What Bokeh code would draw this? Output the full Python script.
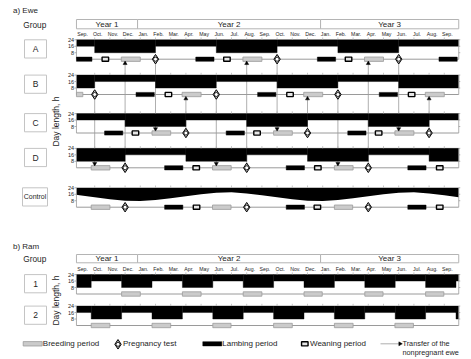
import math
from bokeh.plotting import figure
from bokeh.models import Range1d
from bokeh.core.properties import value
from bokeh.embed import file_html
from bokeh.resources import INLINE

# ---------------- data (months counted from 1 Sep, Year 1) ----------------
month_labels = ["Sep.", "Oct.", "Nov.", "Dec.", "Jan.", "Feb.", "Mar.", "Apr.", "May", "Jun.",
                "Jul.", "Aug.", "Sep.", "Oct.", "Nov.", "Dec.", "Jan.", "Feb.", "Mar.", "Apr.",
                "May", "Jun.", "Jul.", "Aug.", "Sep."]
year_labels = ["Year 1", "Year 2", "Year 3"]
year_edges = [-0.2, 3.82, 15.86, 24.95]
dl_ticks = [24, 16, 8]

ewe_groups = ["A", "B", "C", "D", "Control"]
ram_groups = ["1", "2"]

edges_A = [-0.2, 1, 5, 9, 13, 17, 21, 24.95]
daylen_A = [16, 8, 16, 8, 16, 8, 16]
edges_B = [-0.2, 1, 5, 9, 13, 17, 21, 24.95]
daylen_B = [8, 16, 8, 16, 8, 16, 8]
edges_C = [-0.2, 3, 7, 11, 15, 19, 23, 24.95]
daylen_C = [16, 8, 16, 8, 16, 8, 16]
edges_D = [-0.2, 3, 7, 11, 15, 19, 23, 24.95]
daylen_D = [8, 16, 8, 16, 8, 16, 8]

ctrl_month = [-0.2, 0, 1, 2, 3, 4, 5, 6, 7, 8, 9, 10, 11, 12, 13, 14, 15, 16, 17, 18,
              19, 20, 21, 22, 23, 24, 24.95]
ctrl_daylen = [15.3, 14.6, 12.2, 9.8, 7.9, 7.6, 8.9, 11.0, 13.5, 15.9, 17.9, 18.4, 17.0, 14.6,
               12.2, 9.8, 7.9, 7.6, 8.9, 11.0, 13.5, 15.9, 17.9, 18.4, 17.0, 14.6, 12.3]

edges_ram = [-0.2, 0.77, 2.77, 4.77, 6.77, 8.77, 10.77, 12.77, 14.77, 16.77, 18.77, 20.77,
             22.77, 24.77, 24.95]
daylen_ram1 = [8, 16, 8, 16, 8, 16, 8, 16, 8, 16, 8, 16, 8, 16]
daylen_ram2 = [16, 8, 16, 8, 16, 8, 16, 8, 16, 8, 16, 8, 16, 8]

breed_start_A = [2.75, 10.75, 18.75]
breed_end_A = [4.0, 12.0, 20.0]
preg_A = [5, 13, 21]
lamb_start_A = [-0.2, 7.65, 15.65, 23.65]
lamb_end_A = [0.82, 8.85, 16.85, 24.85]
wean_A = [1.7, 9.7, 17.7]

breed_start_B = [-0.2, 6.75, 14.75, 22.75]
breed_end_B = [0.22, 8.0, 16.0, 24.0]
preg_B = [1, 9, 17]
lamb_start_B = [3.72, 11.72, 19.72]
lamb_end_B = [4.92, 12.92, 20.92]
wean_B = [5.85, 13.85, 21.85]

breed_start_C = [4.77, 12.77, 20.75]
breed_end_C = [6.0, 14.0, 22.0]
preg_C = [7, 15, 23]
lamb_start_C = [1.65, 9.65, 17.65]
lamb_end_C = [2.85, 10.85, 18.85]
wean_C = [3.68, 11.68, 19.68]

breed_start_D = [0.77, 8.75, 16.77]
breed_end_D = [2.0, 9.98, 18.0]
preg_D = [3, 11, 19]
lamb_start_D = [5.6, 13.6, 21.6]
lamb_end_D = [6.8, 14.8, 22.8]
wean_D = [7.68, 15.68, 23.7]

breed_start_Ctrl = [0.77, 8.75, 16.77]
breed_end_Ctrl = [2.0, 9.97, 17.97]
preg_Ctrl = [3, 11, 19]
lamb_start_Ctrl = [5.6, 13.6, 21.6]
lamb_end_Ctrl = [6.8, 14.8, 22.8]
wean_Ctrl = [7.7, 15.65, 23.7]

breed_start_ram1 = [2.77, 6.77, 10.77, 14.77, 18.77, 22.77]
breed_end_ram1 = [4.0, 8.0, 12.0, 15.97, 19.97, 23.97]
breed_start_ram2 = [0.77, 4.77, 8.77, 12.77, 16.77, 20.75]
breed_end_ram2 = [2.0, 6.0, 9.97, 14.0, 18.0, 21.97]

transfer_month = [1, 9, 17, 3, 11, 19, 5, 13, 21, 7, 15, 23]
transfer_from = ["B", "B", "B", "D", "D", "D", "A", "A", "A", "C", "C", "C"]
transfer_to = ["D", "D", "D", "A", "A", "A", "C", "C", "C", "B", "B", "B"]

legend_labels = ["Breeding period", "Pregnancy test", "Lambing period", "Weaning period",
                 "Transfer of the", "nonpregnant ewe"]

# ---------------- layout ----------------
FONT = value("Liberation Sans")
TXT = "#1e1e1e"
GRAY = "#9a9a9a"
X0, PXM = 79.0, 15.2          # page x of 1 Sep Year 1, px per month
K = 0.81                      # px per hour of day length
W, H = 471, 359
base = {"A": 58.7, "B": 94.0, "C": 132.5, "D": 167.3, "Control": 206.7,
        "1": 293.5, "2": 325.0}


def px2m(X):
    return (X - X0) / PXM


p = figure(width=W, height=H, output_backend="svg", toolbar_location=None,
           x_range=Range1d(px2m(0), px2m(W)), y_range=Range1d(H, 0),
           x_axis_location=None, y_axis_location=None, min_border=0,
           outline_line_color=None)
p.grid.visible = False
p.background_fill_color = "white"

for g, y0 in base.items():
    p.extra_y_ranges[g] = Range1d((y0 - H) / K, y0 / K)


def txt(x, y, s, size, align="left", rng="default", angle=0.0, color=TXT):
    p.text(x=x, y=y, text=s, text_font=FONT, text_font_size=size, text_align=align,
           text_baseline="middle", text_color=color, angle=angle, y_range_name=rng)


# ---------------- transfer lines (behind everything) ----------------
for m, src, dst in zip(transfer_month, transfer_from, transfer_to):
    up = base[dst] < base[src]
    tip = base[dst] + (4.2 if up else -4.2)
    p.segment(x0=[m], y0=[base[src]], x1=[m], y1=[tip], line_color=GRAY, line_width=0.8)

# ---------------- headers ----------------
def header(y_title, y_group, title, yb_top, yb_bot, y_month):
    txt([px2m(12.5)], [y_title], [title], "8px")
    txt([px2m(22.7)], [y_group], ["Group"], "8.3px")
    p.quad(left=year_edges[:-1], right=year_edges[1:], top=yb_top, bottom=yb_bot,
           fill_color="white", line_color="#b4b4b4", line_width=1)
    centers = [(a + b) / 2 for a, b in zip(year_edges[:-1], year_edges[1:])]
    txt(centers, [(yb_top + yb_bot) / 2] * 3, year_labels, "8px", "center")
    txt([i + 0.2 for i in range(len(month_labels))], [y_month] * len(month_labels),
        month_labels, "5.2px", "center")


header(10.0, 24.0, "a) Ewe", 19.0, 28.3, 33.4)
header(245.7, 258.3, "b) Ram", 254.0, 262.3, 268.3)

# day length axis titles
txt([px2m(55.5)], [121], ["Day length, h"], "8.5px", "center", angle=math.pi / 2)
txt([px2m(55.5)], [300], ["Day length, h"], "8.5px", "center", angle=math.pi / 2)

# ---------------- group boxes ----------------
for g in ewe_groups + ram_groups:
    y0 = base[g]
    xl, xr = (px2m(22), px2m(47)) if g == "Control" else (px2m(24), px2m(46))
    p.quad(left=[xl], right=[xr], top=[y0 - 19.4], bottom=[y0 - 1.2], fill_color="white",
           line_color="#c4c4c4", line_width=1)
    txt([(xl + xr) / 2], [y0 - 10.3], [g], "7px" if g == "Control" else "8.5px", "center")

# ---------------- day-length bands ----------------
bands = {"A": (edges_A, daylen_A), "B": (edges_B, daylen_B), "C": (edges_C, daylen_C),
         "D": (edges_D, daylen_D), "1": (edges_ram, daylen_ram1), "2": (edges_ram, daylen_ram2)}
for g in ewe_groups + ram_groups:
    if g == "Control":
        p.varea(x=ctrl_month, y1=ctrl_daylen, y2=24, fill_color="black", y_range_name=g)
    else:
        e, d = bands[g]
        p.quad(left=e[:-1], right=e[1:], top=24, bottom=d, fill_color="black",
               line_color="black", line_width=0.4, y_range_name=g)
    lo, hi = year_edges[0], year_edges[-1]
    p.segment(x0=[lo, hi], y0=[0, 0], x1=[lo, hi], y1=[24, 24], line_color=GRAY,
              line_width=0.8, y_range_name=g)
    p.segment(x0=[lo - 0.13] * 3, y0=dl_ticks, x1=[lo] * 3, y1=dl_ticks, line_color=GRAY,
              line_width=0.8, y_range_name=g)
    p.segment(x0=[hi] * 3, y0=dl_ticks, x1=[hi + 0.1] * 3, y1=dl_ticks, line_color=GRAY,
              line_width=0.8, y_range_name=g)
    mt = list(range(1, 25))
    p.segment(x0=mt, y0=[24] * len(mt), x1=mt, y1=[26.8] * len(mt), line_color="#b0b0b0",
              line_width=0.7, y_range_name=g)
    txt([px2m(73.5)] * 3, dl_ticks, [str(t) for t in dl_ticks], "5.5px", "right", rng=g)
    p.segment(x0=[lo], y0=[0], x1=[hi], y1=[0], line_color=GRAY, line_width=1, y_range_name=g)


def breeding(starts, ends, g):
    p.rect(x=[(a + b) / 2 for a, b in zip(starts, ends)], y=0,
           width=[b - a for a, b in zip(starts, ends)], height=4.4, height_units="screen",
           fill_color="#cbcbcb", line_color="#9c9c9c", line_width=0.8, y_range_name=g)


def lambing(starts, ends, g):
    p.rect(x=[(a + b) / 2 for a, b in zip(starts, ends)], y=0,
           width=[b - a for a, b in zip(starts, ends)], height=4.2, height_units="screen",
           fill_color="black", line_color="black", line_width=0.5, y_range_name=g)


def weaning(ms, g):
    p.rect(x=ms, y=0, width=6.5, height=4.2, width_units="screen", height_units="screen",
           fill_color="#e6e6e6", line_color="black", line_width=1.4, y_range_name=g)


def pregtest(ms, g):
    p.scatter(x=ms, y=0, marker="diamond", size=9.5, fill_color="#bdbdbd",
              line_color="black", line_width=1, y_range_name=g)
    p.scatter(x=ms, y=0, marker="circle", size=4, fill_color="white", line_color="black",
              line_width=0.8, y_range_name=g)


events = {
    "A": (breed_start_A, breed_end_A, preg_A, lamb_start_A, lamb_end_A, wean_A),
    "B": (breed_start_B, breed_end_B, preg_B, lamb_start_B, lamb_end_B, wean_B),
    "C": (breed_start_C, breed_end_C, preg_C, lamb_start_C, lamb_end_C, wean_C),
    "D": (breed_start_D, breed_end_D, preg_D, lamb_start_D, lamb_end_D, wean_D),
    "Control": (breed_start_Ctrl, breed_end_Ctrl, preg_Ctrl, lamb_start_Ctrl, lamb_end_Ctrl,
                wean_Ctrl),
}
for g, (bs, be, pt, ls, le, wn) in events.items():
    breeding(bs, be, g)
    lambing(ls, le, g)
    weaning(wn, g)
    pregtest(pt, g)

breeding(breed_start_ram1, breed_end_ram1, "1")
breeding(breed_start_ram2, breed_end_ram2, "2")

# arrowheads of the transfers, on top of the bars
for m, src, dst in zip(transfer_month, transfer_from, transfer_to):
    up = base[dst] < base[src]
    tip = base[dst] + (4.2 if up else -4.2)
    p.scatter(x=[m], y=[tip], marker="triangle" if up else "inverted_triangle", size=4,
              fill_color="black", line_color="black", line_width=0.5)

# ---------------- legend ----------------
LY = 343.3
p.rect(x=[px2m(32.2)], y=[LY], width=[px2m(41.7) - px2m(22.7)], height=4.4,
       height_units="screen", fill_color="#cbcbcb", line_color="#9c9c9c", line_width=0.8)
txt([px2m(42.3)], [LY], [legend_labels[0]], "8px")
p.scatter(x=[px2m(117.5)], y=[LY + 0.5], marker="diamond", size=9.5, fill_color="#bdbdbd",
          line_color="black", line_width=1)
p.scatter(x=[px2m(117.5)], y=[LY + 0.5], marker="circle", size=4, fill_color="white",
          line_color="black", line_width=0.8)
txt([px2m(122.5)], [LY], [legend_labels[1]], "8px")
p.rect(x=[px2m(211.8)], y=[LY], width=[px2m(221.3) - px2m(202.3)], height=4.2,
       height_units="screen", fill_color="black", line_color="black", line_width=0.5)
txt([px2m(221.8)], [LY], [legend_labels[2]], "8px")
p.rect(x=[px2m(304.3)], y=[LY], width=6.5, height=4.2, width_units="screen",
       height_units="screen", fill_color="#e6e6e6", line_color="black", line_width=1.4)
txt([px2m(309.5)], [LY], [legend_labels[3]], "8px")
p.segment(x0=[px2m(380)], y0=[LY], x1=[px2m(399)], y1=[LY], line_color=GRAY, line_width=0.8)
p.scatter(x=[px2m(399.5)], y=[LY], marker="triangle", angle=-math.pi / 2, size=4,
          fill_color="black", line_color="black", line_width=0.5)
txt([px2m(402)], [LY], [legend_labels[4]], "7.3px")
txt([px2m(402)], [LY + 8.3], [legend_labels[5]], "7.3px")

open("out.html", "w").write(file_html(p, INLINE))
